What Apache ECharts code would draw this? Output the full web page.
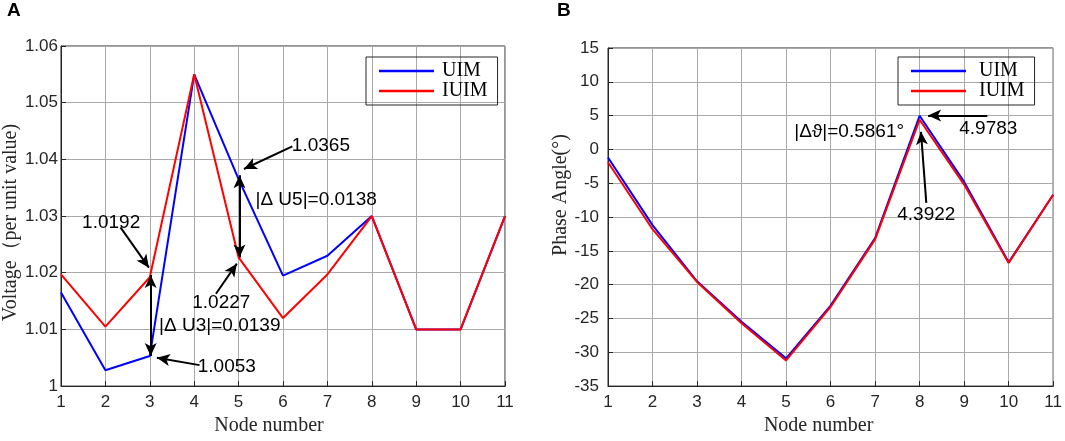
<!DOCTYPE html>
<html>
<head>
<meta charset="utf-8">
<script src="https://cdn.jsdelivr.net/npm/echarts@6/dist/echarts.min.js"></script>
<style>html,body{margin:0;padding:0;background:#fff}#main{width:1065px;height:441px}</style>
</head>
<body>
<div id="main"></div>
<script>
var nodes = [1, 2, 3, 4, 5, 6, 7, 8, 9, 10, 11];
var uimVoltage = [1.0165, 1.0028, 1.0053, 1.0550, 1.0365, 1.0195, 1.0230, 1.0300, 1.0100, 1.0100, 1.0300];
var iuimVoltage = [1.0197, 1.0105, 1.0192, 1.0550, 1.0227, 1.0120, 1.0197, 1.0300, 1.0100, 1.0100, 1.0300];
var uimAngle = [-1.2, -11.2, -19.5, -25.5, -30.9, -23.1, -13.1, 4.9783, -4.8, -16.7, -6.7];
var iuimAngle = [-1.9, -11.8, -19.6, -25.7, -31.2, -23.3, -13.3, 4.3922, -5.2, -16.8, -6.7];

// annotation arrows: [x1, y1, x2, y2, double headed]
var voltArrows = [
    [2.34, 1.0280, 2.98, 1.0209, false],
    [3.02, 1.0053, 3.02, 1.0196, true],
    [4.12, 1.0037, 3.16, 1.0050, false],
    [6.21, 1.0423, 5.12, 1.0383, false],
    [5.02, 1.0227, 5.02, 1.0372, true],
    [4.49, 1.0163, 4.96, 1.0216, false]
];
// annotation texts: [text, x, y, align]
var voltTexts = [
    ["1.0192", 2.13, 1.0289, "center"],
    ["|Δ U3|=0.0139", 3.21, 1.0106, "left"],
    ["1.0053", 4.08, 1.0034, "left"],
    ["1.0365", 6.20, 1.0424, "left"],
    ["|Δ U5|=0.0138", 5.38, 1.0329, "left"],
    ["1.0227", 4.61, 1.0147, "center"]
];
var angleArrows = [
    [9.52, 5.0, 8.19, 5.0, false],
    [8.15, -7.9, 8.03, 2.6, false]
];
var angleTexts = [
    ["4.9783", 8.89, 3.0, "left"],
    ["|Δϑ|=0.5861°", 7.65, 2.6, "right"],
    ["4.3922", 8.15, -9.7, "center"]
];

var sans = "Liberation Sans", serif = "Liberation Serif", ink = "#262626";

function pairs(xs, ys) {
    return xs.map(function (x, i) { return [x, ys[i]]; });
}

function arrowLines(list) {
    return list.map(function (a) {
        return [
            {coord: [a[0], a[1]], symbol: a[4] ? "arrow" : "none", symbolSize: [9, 13]},
            {coord: [a[2], a[3]], symbol: "arrow", symbolSize: [9, 13]}
        ];
    });
}

function textPoints(list) {
    return list.map(function (t) {
        return {name: t[0], coord: [t[1], t[2]], label: {align: t[3]}};
    });
}

function xAx(idx, pad) {
    return {
        type: "value", gridIndex: idx, min: 1, max: 11, interval: 1,
        name: "Node number", nameLocation: "middle", nameGap: 26,
        nameTextStyle: {fontFamily: serif, fontSize: 20, color: ink, padding: pad},
        axisLine: {onZero: false, lineStyle: {color: ink, width: 1}},
        axisTick: {inside: true, length: 5, lineStyle: {color: ink}},
        axisLabel: {fontFamily: sans, fontSize: 17, color: ink, margin: 8},
        splitLine: {show: true, lineStyle: {color: "#aaaaaa", width: 1}}
    };
}

function yAx(idx, min, max, step, name, gap, pad, margin) {
    return {
        type: "value", gridIndex: idx, min: min, max: max, interval: step,
        name: name, nameLocation: "middle", nameGap: gap,
        nameTextStyle: {fontFamily: serif, fontSize: 20, color: ink, padding: pad},
        axisLine: {show: true, onZero: false, lineStyle: {color: ink, width: 1}},
        axisTick: {show: true, inside: true, length: 5, lineStyle: {color: ink}},
        axisLabel: {fontFamily: sans, fontSize: 17, color: ink, margin: margin},
        splitLine: {show: true, lineStyle: {color: "#aaaaaa", width: 1}}
    };
}

function legendAt(left, width, textPad) {
    return {
        data: ["UIM", "IUIM"], orient: "vertical", left: left, top: 57, width: width,
        icon: "rect", itemWidth: 55, itemHeight: 2.5, itemGap: 0,
        padding: [4, 10, 4, 13], borderColor: ink, borderWidth: 1,
        textStyle: {fontFamily: serif, fontSize: 20, color: "#000", lineHeight: 20, padding: [0, 0, 0, textPad]}
    };
}

function lineSeries(name, color, idx, data, extra) {
    var s = {
        name: name, type: "line", xAxisIndex: idx, yAxisIndex: idx, data: data,
        symbol: "none", lineStyle: {color: color, width: 2}, itemStyle: {color: color}
    };
    if (extra) {
        s.markLine = {
            silent: true, animation: false, label: {show: false},
            lineStyle: {color: "#000", width: 2, type: "solid"},
            data: arrowLines(extra.arrows)
        };
        s.markPoint = {
            silent: true, animation: false, symbol: "circle", symbolSize: 0,
            label: {show: true, position: "inside", formatter: "{b}", fontFamily: sans, fontSize: 19, color: "#000"},
            data: textPoints(extra.texts)
        };
    }
    return s;
}

var chart = echarts.init(document.getElementById("main"));
chart.setOption({
    animation: false,
    title: [
        {text: "A", left: 7, top: 1, padding: 0, textStyle: {fontFamily: sans, fontSize: 19, fontWeight: "bold", color: "#000"}},
        {text: "B", left: 557, top: 1, padding: 0, textStyle: {fontFamily: sans, fontSize: 19, fontWeight: "bold", color: "#000"}}
    ],
    grid: [
        {left: 58, top: 46, width: 447, height: 351, show: true, borderColor: ink, borderWidth: 1},
        {left: 608, top: 48, width: 447, height: 351, show: true, borderColor: ink, borderWidth: 1}
    ],
    legend: [legendAt(366, 130, 3), legendAt(898, 135, 8)],
    xAxis: [xAx(0, [0, 28, 0, 0]), xAx(1, [0, 24, 0, 0])],
    yAxis: [
        yAx(0, 1, 1.06, 0.01, "Voltage（per unit value)", 36, [0, 13, 0, 0], 3),
        yAx(1, -35, 15, 5, "Phase Angle(°)", 33, [0, 0, 0, 44], 9)
    ],
    series: [
        lineSeries("UIM", "#0000ff", 0, pairs(nodes, uimVoltage)),
        lineSeries("IUIM", "#ff0000", 0, pairs(nodes, iuimVoltage), {arrows: voltArrows, texts: voltTexts}),
        lineSeries("UIM", "#0000ff", 1, pairs(nodes, uimAngle)),
        lineSeries("IUIM", "#ff0000", 1, pairs(nodes, iuimAngle), {arrows: angleArrows, texts: angleTexts})
    ]
});
</script>
</body>
</html>
